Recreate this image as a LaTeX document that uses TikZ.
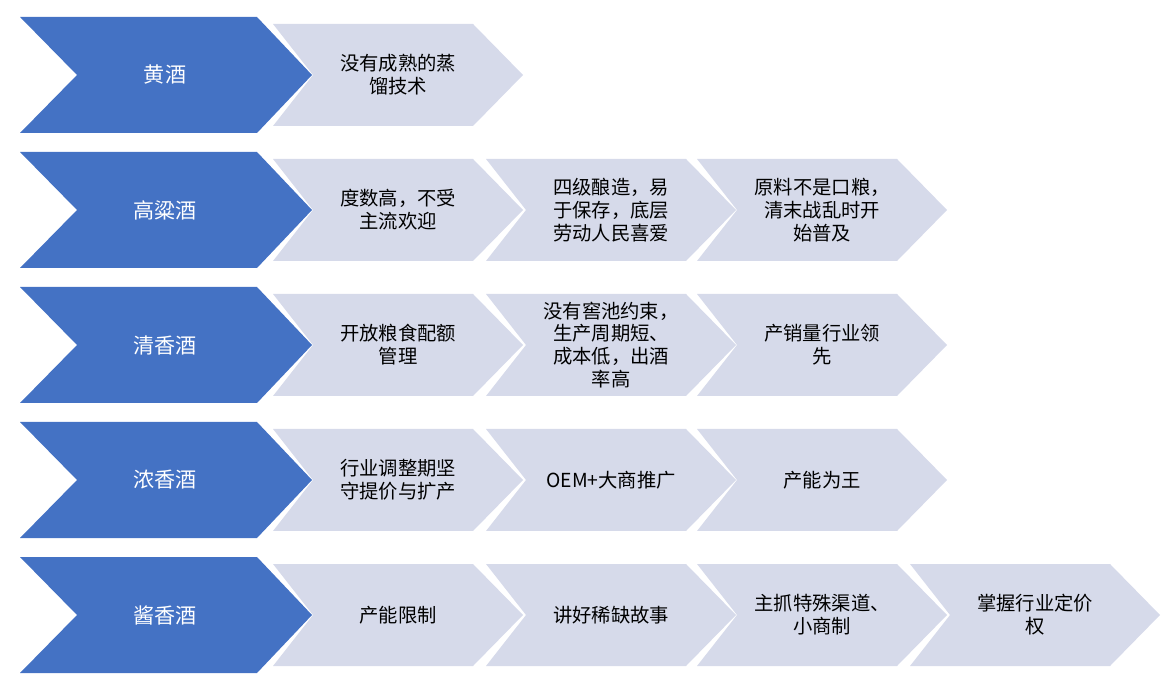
\documentclass[tikz,border=0pt]{standalone}
\usepackage{fontspec}
\newfontfamily\cjk{Noto Sans CJK SC}
\definecolor{cblue}{HTML}{4472C4}
\definecolor{cgray}{HTML}{D6DAEA}
\begin{document}
\begin{tikzpicture}[x=0.02cm,y=-0.02cm,
  bluetxt/.style={text=white,font=\cjk\fontsize{12}{14}\selectfont,align=center},
  graytxt/.style={text=black,font=\cjk\fontsize{11}{13}\selectfont,align=center,text width=3.2cm}]
\useasboundingbox (0,0) rectangle (1162,688);
\newcommand{\bluechev}[3]{% y top, name, text
  \fill[cblue] (20,#1) -- (257,#1) -- (312,#1+58) -- (257,#1+116) -- (20,#1+116) -- (77,#1+58) -- cycle;
  \node[bluetxt] (#2) at (165,#1+58) {#3};}
\newcommand{\graychev}[4]{% x left, y top, name, text
  \fill[cgray] (#1,#2+7) -- (#1+200,#2+7) -- (#1+250,#2+58) -- (#1+200,#2+109) -- (#1,#2+109) -- (#1+40,#2+58) -- cycle;
  \node[graytxt] (#3) at (#1+125,#2+58) {#4};}
\bluechev{17}{b1}{黄酒}
\graychev{273}{17}{g11}{没有成熟的蒸\\馏技术}
\bluechev{152}{b2}{高粱酒}
\graychev{273}{152}{g21}{度数高，不受\\主流欢迎}
\graychev{486}{152}{g22}{四级酿造，易\\于保存，底层\\劳动人民喜爱}
\graychev{697}{152}{g23}{原料不是口粮，\\清末战乱时开\\始普及}
\bluechev{287}{b3}{清香酒}
\graychev{273}{287}{g31}{开放粮食配额\\管理}
\graychev{486}{287}{g32}{没有窖池约束，\\生产周期短、\\成本低，出酒\\率高}
\graychev{697}{287}{g33}{产销量行业领\\先}
\bluechev{422}{b4}{浓香酒}
\graychev{273}{422}{g41}{行业调整期坚\\守提价与扩产}
\graychev{486}{422}{g42}{OEM+大商推广}
\graychev{697}{422}{g43}{产能为王}
\bluechev{557}{b5}{酱香酒}
\graychev{273}{557}{g51}{产能限制}
\graychev{486}{557}{g52}{讲好稀缺故事}
\graychev{697}{557}{g53}{主抓特殊渠道、\\小商制}
\graychev{910}{557}{g54}{掌握行业定价\\权}
\end{tikzpicture}
\end{document}
